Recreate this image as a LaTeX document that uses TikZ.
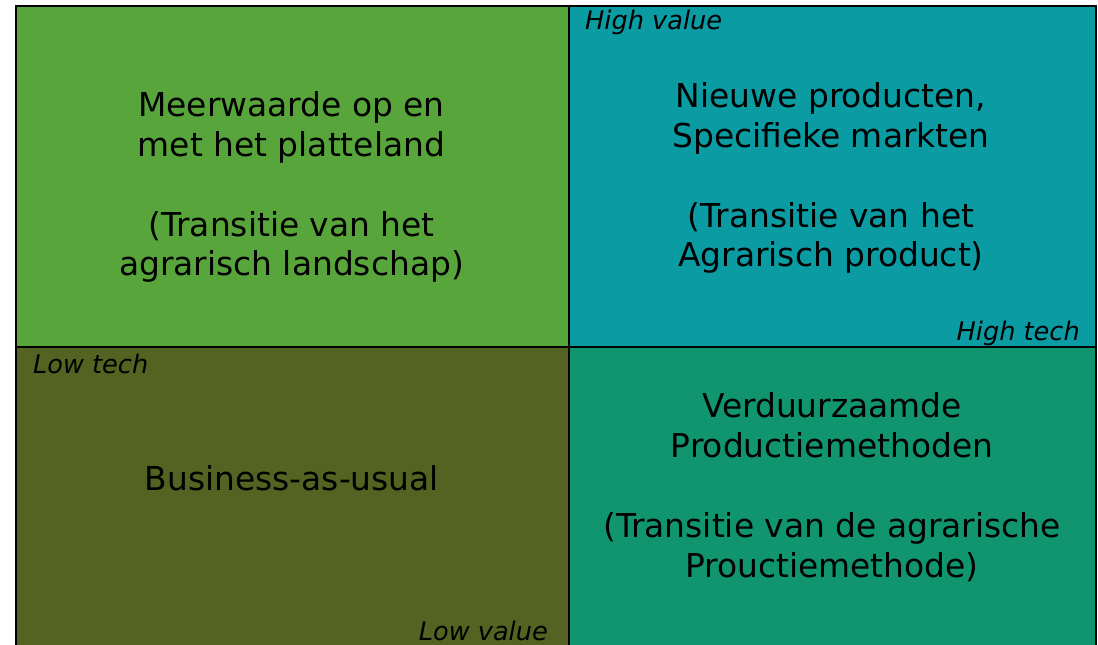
\documentclass[tikz,border=0pt]{standalone}
\usepackage{fontspec}
\setmainfont{DejaVu Sans}
\usepackage{tikz}
\usetikzlibrary{positioning}

\definecolor{landgreen}{HTML}{57A53B}
\definecolor{productteal}{HTML}{0A9BA3}
\definecolor{usualolive}{HTML}{546321}
\definecolor{methodgreen}{HTML}{10956F}

\begin{document}
\begin{tikzpicture}[
  x=1bp, y=-1bp,
  quadrant/.style={draw=black, line width=2.2bp, anchor=north west, inner sep=0pt},
  maintext/.style={align=center, anchor=base, inner sep=0pt, font=\fontsize{33}{40}\selectfont},
  corner/.style={inner sep=0pt, font=\fontsize{25.7}{30}\selectfont\itshape}
]
\useasboundingbox (0,0) rectangle (1098,645);

% Quadrants
\begin{scope}
\clip (0,0) rectangle (1098,645);
\node[quadrant, fill=landgreen, minimum width=553bp, minimum height=341bp] (land) at (15,5) {};
\node[quadrant, fill=productteal, minimum width=527bp, minimum height=341bp] (product) at (568,5) {};
\node[quadrant, fill=usualolive, minimum width=553bp, minimum height=334bp] (usual) at (15,346) {};
\node[quadrant, fill=methodgreen, minimum width=527bp, minimum height=334bp] (method) at (568,346) {};
\end{scope}

% Quadrant texts (base = last line)
\node[maintext] (landtext) at (291.5,276) {Meerwaarde op en\\met het platteland\\[40bp](Transitie van het\\agrarisch landschap)};
\node[maintext] (producttext) at (831,267) {Nieuwe producten,\\Specifieke markten\\[40bp](Transitie van het\\Agrarisch product)};
\node[maintext] (usualtext) at (292,490) {Business-as-usual};
\node[maintext] (methodtext) at (832,577) {Verduurzaamde\\Productiemethoden\\[40bp](Transitie van de agrarische\\Prouctiemethode)};

% Axis labels
\node[corner, anchor=base west] (highvalue) at (585,30) {High value};
\node[corner, anchor=base east] (hightech) at (1080,340) {High tech};
\node[corner, anchor=base west] (lowtech) at (33,373) {Low tech};
\node[corner, anchor=base east] (lowvalue) at (548,640) {Low value};

\end{tikzpicture}
\end{document}
